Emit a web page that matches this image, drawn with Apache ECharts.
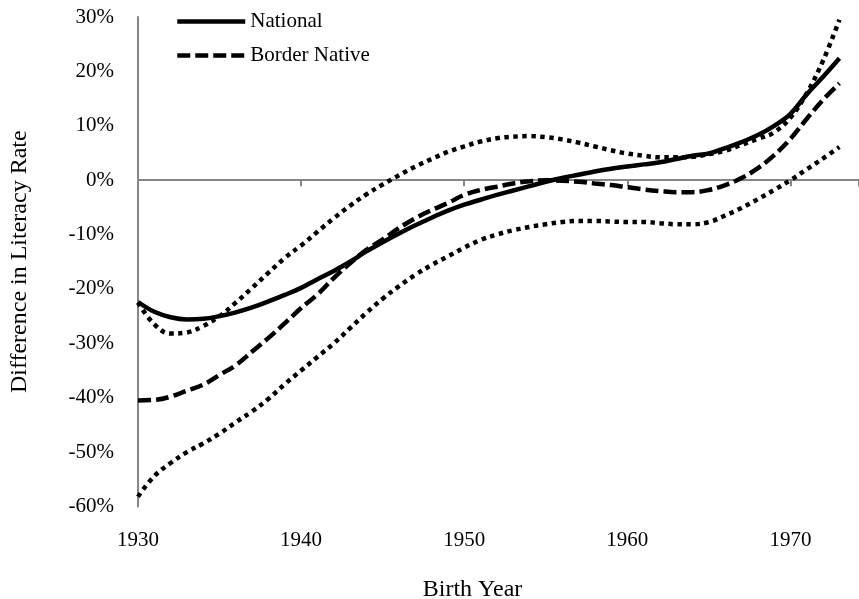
<!DOCTYPE html>
<html>
<head>
<meta charset="utf-8">
<script src="https://cdn.jsdelivr.net/npm/echarts@6/dist/echarts.min.js"></script>
<style>
  html, body { margin: 0; padding: 0; background: #fff; }
  #chart { width: 859px; height: 599px; }
</style>
</head>
<body>
<div id="chart"></div>
<script>
var years = [1930,1931,1932,1933,1934,1935,1936,1937,1938,1939,
             1940,1941,1942,1943,1944,1945,1946,1947,1948,1949,
             1950,1951,1952,1953,1954,1955,1956,1957,1958,1959,
             1960,1961,1962,1963,1964,1965,1966,1967,1968,1969,
             1970,1971,1972,1973];

// difference in literacy rate, percent
var national = [-22.4,-24.2,-25.2,-25.6,-25.5,-25.0,-24.3,-23.4,-22.3,-21.1,
                -19.8,-18.2,-16.7,-15.0,-13.1,-11.4,-9.8,-8.3,-6.9,-5.6,
                -4.5,-3.6,-2.7,-1.9,-1.1,-0.3,0.4,1.0,1.6,2.1,
                2.5,2.9,3.3,3.9,4.5,4.9,5.9,7.0,8.3,10.0,
                12.2,15.8,19.0,22.4];
var borderNative = [-40.5,-40.4,-39.8,-38.7,-37.6,-35.8,-34.0,-31.5,-29.0,-26.3,
                    -23.5,-21.0,-18.0,-15.3,-12.8,-10.9,-8.8,-7.0,-5.5,-4.2,
                    -2.7,-1.8,-1.2,-0.6,-0.2,0.0,-0.1,-0.3,-0.6,-0.9,
                    -1.3,-1.7,-2.0,-2.2,-2.2,-1.8,-0.9,0.4,2.2,4.6,
                    7.6,11.3,14.8,17.8];
var upperBand = [-22.5,-26.5,-28.2,-28.0,-26.8,-25.0,-22.5,-19.8,-17.0,-14.3,
                 -12.0,-9.5,-7.0,-4.7,-2.6,-0.8,0.9,2.5,3.9,5.2,
                 6.2,7.1,7.7,8.0,8.1,7.9,7.5,6.9,6.2,5.5,
                 4.9,4.5,4.2,4.2,4.3,4.8,5.4,6.5,7.6,8.8,
                 11.5,16.0,22.0,29.5];
var lowerBand = [-58.2,-54.4,-52.0,-50.0,-48.4,-46.6,-44.5,-42.5,-40.2,-37.5,
                 -35.0,-32.5,-30.0,-27.2,-24.4,-21.8,-19.5,-17.4,-15.6,-14.0,
                 -12.4,-11.0,-10.0,-9.2,-8.6,-8.1,-7.7,-7.5,-7.5,-7.6,
                 -7.7,-7.7,-7.9,-8.1,-8.1,-7.7,-6.5,-5.1,-3.5,-1.8,
                 0.0,2.0,4.0,6.1];

function pairs(vals) {
  return years.map(function (y, i) { return [y, vals[i]]; });
}

var font = '"Liberation Serif", "Times New Roman", serif';
var gray = '#868686';

var chart = echarts.init(document.getElementById('chart'));

var option = {
  backgroundColor: '#fff',
  animation: false,
  textStyle: { fontFamily: font, color: '#000' },
  grid: { left: 138, right: 0, top: 17, bottom: 92.5, containLabel: false, outerBoundsMode: 'none' },
  legend: {
    data: ['National', 'Border Native'],
    orient: 'vertical',
    left: 170,
    top: 6,
    itemWidth: 68,
    itemHeight: 14,
    itemGap: 13,
    itemStyle: { color: 'transparent', borderWidth: 0, opacity: 0 },
    lineStyle: { width: 4.5 },
    textStyle: { fontFamily: font, fontSize: 21, color: '#000' }
  },
  xAxis: [
    {
      type: 'value',
      min: 1930,
      max: 1974.2,
      interval: 10,
      position: 'bottom',
      axisLine: { show: false, onZero: false },
      axisTick: { show: false },
      splitLine: { show: false },
      axisLabel: {
        margin: 23,
        fontFamily: font,
        fontSize: 21,
        color: '#000',
        showMaxLabel: false,
        formatter: function (v) { return v % 10 === 0 ? String(v) : ''; }
      },
      name: 'Birth Year',
      nameLocation: 'middle',
      nameGap: 71,
      nameTextStyle: { fontFamily: font, fontSize: 24, color: '#000', padding: [0, 52, 0, 0] }
    },
    {
      type: 'value',
      min: 1930,
      max: 1974.2,
      interval: 10,
      position: 'bottom',
      axisLine: { show: true, onZero: true, lineStyle: { color: gray, width: 2 } },
      axisTick: { show: true, length: 6, lineStyle: { color: gray, width: 2 } },
      axisLabel: { show: false },
      splitLine: { show: false }
    }
  ],
  yAxis: {
    type: 'value',
    min: -60,
    max: 30,
    interval: 10,
    axisLine: { show: true, onZero: false, lineStyle: { color: gray, width: 2 } },
    axisTick: { show: false },
    splitLine: { show: false },
    axisLabel: {
      margin: 24,
      fontFamily: font,
      fontSize: 21,
      color: '#000',
      formatter: '{value}%'
    },
    name: 'Difference in Literacy Rate',
    nameLocation: 'middle',
    nameGap: 106,
    nameTextStyle: { fontFamily: font, fontSize: 24, color: '#000' }
  },
  series: [
    {
      name: 'Upper bound',
      type: 'line',
      xAxisIndex: 0,
      data: pairs(upperBand),
      smooth: 0.4,
      symbol: 'none',
      lineStyle: { color: '#000', width: 4.5, type: [4.5, 4.5] },
      z: 2
    },
    {
      name: 'Lower bound',
      type: 'line',
      xAxisIndex: 0,
      data: pairs(lowerBand),
      smooth: 0.4,
      symbol: 'none',
      lineStyle: { color: '#000', width: 4.5, type: [4.5, 4.5] },
      z: 2
    },
    {
      name: 'Border Native',
      type: 'line',
      xAxisIndex: 0,
      data: pairs(borderNative),
      smooth: 0.4,
      symbol: 'none',
      itemStyle: { color: '#000' },
      lineStyle: { color: '#000', width: 4.5, type: [13, 5] },
      z: 3
    },
    {
      name: 'National',
      type: 'line',
      xAxisIndex: 0,
      data: pairs(national),
      smooth: 0.4,
      symbol: 'none',
      itemStyle: { color: '#000' },
      lineStyle: { color: '#000', width: 4.5, type: 'solid' },
      z: 4
    }
  ]
};

chart.setOption(option);
</script>
</body>
</html>
